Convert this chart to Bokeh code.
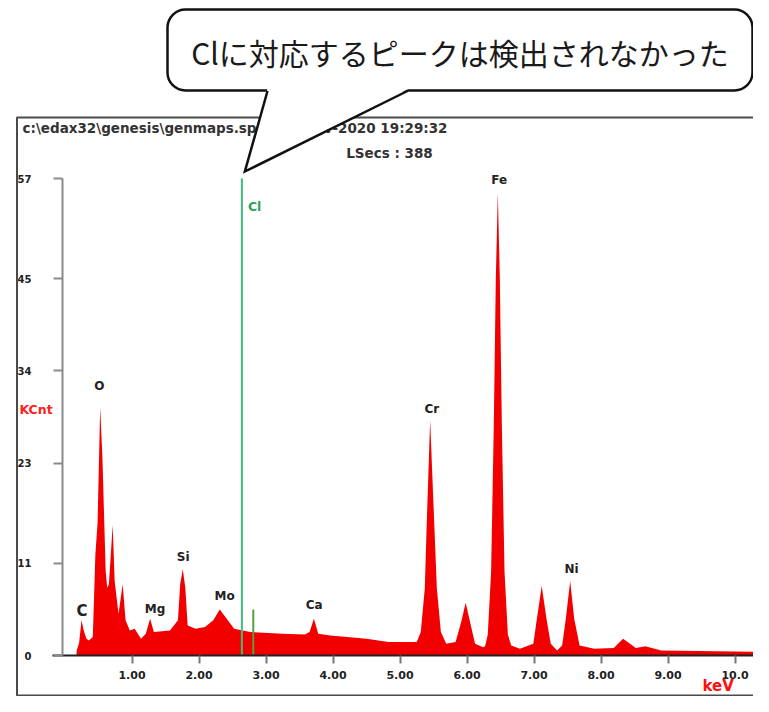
from bokeh.plotting import figure
from bokeh.models import Range1d, FixedTicker, BoxAnnotation
from bokeh.core.properties import value
from bokeh.embed import file_html
from bokeh.resources import INLINE

# ---------------- data ----------------
energy_kev = [0.17, 0.175, 0.21, 0.247, 0.28, 0.32, 0.357, 0.415, 0.453, 0.486,
              0.525, 0.558, 0.607, 0.63, 0.655, 0.712, 0.741, 0.799, 0.861, 0.904,
              0.967, 1.04, 1.134, 1.206, 1.27, 1.326, 1.566, 1.686, 1.719, 1.758,
              1.796, 1.83, 1.95, 2.09, 2.213, 2.31, 2.43, 2.525, 2.765, 3.245,
              3.58, 3.65, 3.715, 3.78, 3.96, 4.5, 4.83, 5.25, 5.31, 5.37,
              5.40, 5.45, 5.51, 5.55, 5.61, 5.69, 5.83, 5.92, 5.98, 6.04,
              6.12, 6.24, 6.27, 6.31, 6.36, 6.40, 6.43, 6.46, 6.49, 6.52,
              6.56, 6.61, 6.66, 6.79, 6.99, 7.04, 7.115, 7.19, 7.25, 7.345,
              7.42, 7.475, 7.54, 7.60, 7.68, 7.90, 8.19, 8.33, 8.52, 8.66,
              8.9, 10.3]
counts_kcnt = [0.0, 0.6, 1.5, 4.2, 3.0, 2.0, 1.8, 2.2, 12.0, 15.8,
               29.7, 23.8, 10.1, 8.1, 8.5, 15.6, 8.9, 5.0, 8.5, 4.2,
               3.0, 3.2, 2.0, 2.6, 4.4, 2.8, 3.0, 4.2, 8.5, 10.3,
               8.1, 3.6, 3.2, 3.4, 4.2, 5.5, 4.2, 3.2, 2.8, 2.6,
               2.5, 2.8, 4.4, 2.6, 2.4, 2.0, 1.6, 1.6, 2.8, 8.0,
               16.0, 28.1, 16.0, 8.0, 2.8, 1.4, 1.6, 4.2, 6.3, 4.2,
               1.4, 1.0, 1.1, 2.5, 10.0, 27.6, 45.0, 55.3, 45.0, 27.6,
               10.0, 2.5, 1.2, 0.8, 1.4, 4.2, 8.3, 4.2, 1.4, 0.6,
               1.2, 4.4, 8.9, 4.4, 1.2, 0.8, 0.9, 2.0, 0.9, 1.1,
               0.6, 0.45]

peak_names = ["C", "O", "Mg", "Si", "Mo", "Ca", "Cr", "Fe", "Ni"]
peak_label_kev = [0.252, 0.511, 1.345, 1.763, 2.381, 3.719, 5.475, 6.482, 7.561]
peak_label_kcnt = [5.3, 32.2, 5.5, 11.8, 7.1, 6.0, 29.5, 56.8, 10.3]
peak_label_size = ["15px", "12px", "12px", "12px", "12px", "12px", "12px", "12px", "12px"]

cl_marker_kev = [2.64, 2.81]
cl_marker_kcnt = [57.0, 5.5]
cl_label_kcnt = 53.7
unit_label_kcnt = 29.4

y_ticks = [0, 11, 23, 34, 45, 57]
x_ticks = [1, 2, 3, 4, 5, 6, 7, 8, 9, 10]
x_tick_labels = ["1.00", "2.00", "3.00", "4.00", "5.00", "6.00", "7.00", "8.00", "9.00", "10.0"]

title_left = "c:\\edax32\\genesis\\genmaps.spc"
title_right = "10-Nov-2020 19:29:32"
live_secs = "LSecs : 388"
callout = "Clに対応するピークは検出されなかった"

# ---------------- layout (canvas pixels <-> data) ----------------
W, H = 753, 696
X0, PXK = 64.5, 67.0      # canvas x of 0 keV, px per keV
Y0, PXC = 655.0, 8.368    # canvas y of 0 KCnt, px per KCnt


def kx(px):
    return (px - X0) / PXK


def cy(py):
    return (Y0 - py) / PXC


def px_of(kev):
    return X0 + kev * PXK


p = figure(width=W, height=H,
           x_range=Range1d(kx(0), kx(W)), y_range=Range1d(cy(H), cy(0)),
           output_backend="svg", toolbar_location=None, min_border=0)
p.grid.visible = False
p.outline_line_color = None
p.background_fill_color = "white"
p.border_fill_color = "white"

# spectrum
p.varea(x=energy_kev, y1=0, y2=counts_kcnt, fill_color="#f20000")

# Cl markers
p.segment(x0=cl_marker_kev, y0=[0, 0], x1=cl_marker_kev, y1=cl_marker_kcnt,
          line_color=["#3dbb7d", "#55a040"], line_width=2)
p.text(x=[cl_marker_kev[0]], y=[cl_label_kcnt], text=["Cl"], x_offset=6,
       text_color="#2f9f60", text_font=value("DejaVu Sans"), text_font_style="bold",
       text_font_size="12.5px", text_align="left", text_baseline="middle")

# peak labels
p.text(x=peak_label_kev, y=peak_label_kcnt, text=peak_names,
       text_font_size=peak_label_size,
       text_color="#222222", text_font=value("DejaVu Sans"), text_font_style="bold",
       text_align="center", text_baseline="middle")

# axes
xa = p.xaxis[0]
ya = p.yaxis[0]
xa.fixed_location = 0
xa.bounds = (kx(52), kx(900))
xa.ticker = FixedTicker(ticks=x_ticks)
xa.major_label_overrides = {t: s for t, s in zip(x_ticks, x_tick_labels)}
xa.axis_line_color = "#222222"
xa.axis_line_width = 2
xa.major_tick_line_color = "#777777"
xa.major_tick_line_width = 2
xa.major_tick_out = 8
xa.major_tick_in = 0
xa.minor_tick_line_color = None
xa.major_label_standoff = 7
xa.major_label_text_font = "DejaVu Sans"
xa.major_label_text_font_style = "bold"
xa.major_label_text_font_size = "11px"
xa.major_label_text_color = "#222222"

ya.fixed_location = kx(62)
ya.bounds = (0, 57)
ya.ticker = FixedTicker(ticks=y_ticks)
ya.axis_line_color = "#8a8a8a"
ya.axis_line_width = 2
ya.major_tick_line_color = "#8a8a8a"
ya.major_tick_line_width = 2
ya.major_tick_out = 9
ya.major_tick_in = 0
ya.minor_tick_line_color = None
ya.major_label_standoff = 22
ya.major_label_text_font = "DejaVu Sans"
ya.major_label_text_font_style = "bold"
ya.major_label_text_font_size = "10px"
ya.major_label_text_color = "#222222"

# axis unit labels
p.text(x=[kx(19)], y=[unit_label_kcnt], text=["KCnt"], text_color="#ff2020",
       text_font=value("DejaVu Sans"), text_font_style="bold", text_font_size="12.5px",
       text_align="left", text_baseline="middle")
p.text(x=[kx(702)], y=[cy(694)], text=["keV"], text_color="#ff1010",
       text_font=value("DejaVu Sans"), text_font_style="bold", text_font_size="15px",
       text_align="left", text_baseline="bottom")

# header texts
hdr = dict(text_color="#333333", text_font=value("DejaVu Sans"), text_font_style="bold",
           text_font_size="13.5px", text_baseline="middle")
p.text(x=[kx(22)], y=[cy(127)], text=[title_left], text_align="left", **hdr)
p.text(x=[kx(447)], y=[cy(127)], text=[title_right], text_align="right", **hdr)
p.text(x=[kx(389)], y=[cy(152)], text=[live_secs], text_align="center", **hdr)

# outer chart frame
p.add_layout(BoxAnnotation(left=kx(16.5), right=kx(900), top=cy(117), bottom=cy(695),
                           fill_color=None, line_color="#4a4a4a", line_alpha=1.0,
                           line_width=2))

# callout bubble
tip_x = px_of(cl_marker_kev[0]) + 3
p.add_layout(BoxAnnotation(left=kx(167), right=kx(752), top=cy(9), bottom=cy(90),
                           border_radius=18, fill_color="white", fill_alpha=1.0,
                           line_color="#111111", line_alpha=1.0, line_width=2.5))
p.patch(x=[kx(267.6), kx(tip_x), kx(412.7)], y=[cy(86), cy(171), cy(86)],
        fill_color="white", line_color=None, level="overlay")
p.line(x=[kx(267), kx(tip_x), kx(407)], y=[cy(90.5), cy(171), cy(90.5)],
       line_color="#111111", line_width=2.5, line_join="miter", level="overlay")
p.text(x=[kx(459.5)], y=[cy(51)], text=[callout], text_color="#1a1a1a",
       text_font=value("Noto Sans CJK JP"), text_font_size="30px",
       text_align="center", text_baseline="middle", level="overlay")

open("out.html", "w").write(file_html(p, INLINE))
